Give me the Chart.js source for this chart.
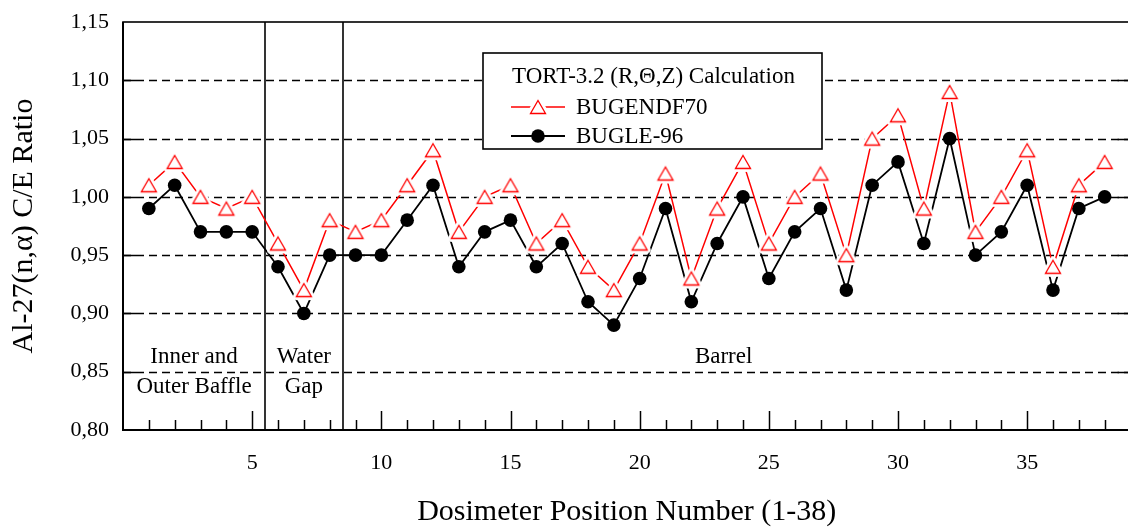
<!DOCTYPE html>
<html>
<head>
<meta charset="utf-8">
<title>Al-27(n,α) C/E Ratio</title>
<script src="https://cdn.jsdelivr.net/npm/chart.js@4.4.0/dist/chart.umd.min.js"></script>
<style>
  html, body { margin: 0; padding: 0; background: #fff; overflow: hidden; }
  #wrap { width: 1140px; height: 527px; }
</style>
</head>
<body>
<div id="wrap"><canvas id="ratio-chart" width="1140" height="527"></canvas></div>
<script>
const el = (id) => document.getElementById(id);
const SERIF = '"Liberation Serif", "Times New Roman", serif';

// dosimeter positions and C/E ratios
const positions = [1, 2, 3, 4, 5, 6, 7, 8, 9, 10, 11, 12, 13, 14, 15, 16, 17, 18, 19,
                   20, 21, 22, 23, 24, 25, 26, 27, 28, 29, 30, 31, 32, 33, 34, 35, 36, 37, 38];
const bugendf70 = [1.01, 1.03, 1.00, 0.99, 1.00, 0.96, 0.92, 0.98, 0.97, 0.98, 1.01, 1.04, 0.97,
                   1.00, 1.01, 0.96, 0.98, 0.94, 0.92, 0.96, 1.02, 0.93, 0.99, 1.03, 0.96, 1.00,
                   1.02, 0.95, 1.05, 1.07, 0.99, 1.09, 0.97, 1.00, 1.04, 0.94, 1.01, 1.03];
const bugle96  = [0.99, 1.01, 0.97, 0.97, 0.97, 0.94, 0.90, 0.95, 0.95, 0.95, 0.98, 1.01, 0.94,
                   0.97, 0.98, 0.94, 0.96, 0.91, 0.89, 0.93, 0.99, 0.91, 0.96, 1.00, 0.93, 0.97,
                   0.99, 0.92, 1.01, 1.03, 0.96, 1.05, 0.95, 0.97, 1.01, 0.92, 0.99, 1.00];
const xTickLabels = [5, 10, 15, 20, 25, 30, 35];

// region boundaries and names
const dividers = [5.5, 8.5];
const regionNames = [['Inner and', 'Outer Baffle'], ['Water', 'Gap'], ['Barrel']];
const legendTitle = 'TORT-3.2 (R,\u0398,Z) Calculation';

// hollow triangle with a white halo so the line stops short of the symbol
const makeTriangle = (color) => {
  const c = document.createElement('canvas');
  c.width = c.height = 28;
  const g = c.getContext('2d');
  const path = () => { g.beginPath(); g.moveTo(14, 7.5); g.lineTo(21.5, 20.5); g.lineTo(6.5, 20.5); g.closePath(); };
  path();
  g.lineJoin = 'round'; g.lineWidth = 7; g.strokeStyle = '#fff'; g.fillStyle = '#fff';
  g.fill(); g.stroke();
  path();
  g.lineJoin = 'miter'; g.lineWidth = 1.3; g.strokeStyle = color;
  g.fill(); g.stroke();
  return c;
};
const triangle = makeTriangle('#ff0000');

const toXY = (vals) => vals.map((v, i) => ({ x: positions[i], y: v }));

// fixed scale boxes, no extra label overhang
const fitBox = (size) => (s) => {
  if (s.isHorizontal()) s.height = size; else s.width = size;
  s.paddingTop = s.paddingBottom = s.paddingLeft = s.paddingRight = 0;
};

const decor = {
  id: 'decor',
  beforeDatasetsDraw(chart) {
    const { ctx, chartArea: a, scales: { x, y } } = chart;
    ctx.save();
    // dashed horizontal grid
    ctx.setLineDash([8, 5]);
    ctx.lineWidth = 1.3;
    ctx.strokeStyle = '#000';
    y.ticks.forEach(t => {
      if (t.value <= y.min + 1e-6 || t.value >= y.max - 1e-6) return;
      const py = Math.round(y.getPixelForValue(t.value)) + 0.5;
      ctx.beginPath(); ctx.moveTo(a.left, py); ctx.lineTo(a.right, py); ctx.stroke();
    });
    ctx.setLineDash([]);
    // region dividers
    ctx.lineWidth = 1.6;
    dividers.forEach(v => {
      const px = Math.round(x.getPixelForValue(v));
      ctx.beginPath(); ctx.moveTo(px, a.top); ctx.lineTo(px, a.bottom); ctx.stroke();
    });
    // region names
    const edges = [x.min, ...dividers, positions[positions.length - 1]];
    ctx.fillStyle = '#000';
    ctx.font = '23px ' + SERIF;
    ctx.textAlign = 'center';
    ctx.textBaseline = 'alphabetic';
    regionNames.forEach((lines, i) => {
      const cx = (x.getPixelForValue(edges[i]) + x.getPixelForValue(edges[i + 1])) / 2;
      lines.forEach((s, j) => ctx.fillText(s, cx, a.bottom - 67 + j * 30));
    });
    ctx.restore();
  },
  afterDatasetsDraw(chart) {
    const { ctx, chartArea: a, scales: { x, y } } = chart;
    ctx.save();
    ctx.strokeStyle = '#000';
    // inward ticks
    ctx.lineWidth = 1.5;
    x.ticks.forEach(t => {
      if (t.value <= x.min || t.value >= x.max) return;
      const px = Math.round(x.getPixelForValue(t.value)) + 0.5;
      const len = t.value % 5 === 0 ? 19 : 10;
      ctx.beginPath(); ctx.moveTo(px, a.bottom); ctx.lineTo(px, a.bottom - len); ctx.stroke();
    });
    y.ticks.forEach(t => {
      if (t.value <= y.min + 1e-6 || t.value >= y.max - 1e-6) return;
      const py = Math.round(y.getPixelForValue(t.value)) + 0.5;
      ctx.beginPath(); ctx.moveTo(a.left, py); ctx.lineTo(a.left + 13, py); ctx.stroke();
      ctx.beginPath(); ctx.moveTo(a.right, py); ctx.lineTo(a.right - 13, py); ctx.stroke();
    });
    // frame
    ctx.lineWidth = 1.6;
    ctx.strokeRect(a.left, a.top, a.right - a.left, a.bottom - a.top);
    ctx.lineWidth = 2;
    ctx.beginPath(); ctx.moveTo(a.left, a.top); ctx.lineTo(a.left, a.bottom); ctx.lineTo(a.right, a.bottom); ctx.stroke();
    ctx.restore();
  },
  afterDraw(chart) {
    const { ctx } = chart;
    const box = { left: 483, top: 53, right: 822, bottom: 149 };
    ctx.save();
    ctx.fillStyle = '#fff';
    ctx.fillRect(box.left, box.top, box.right - box.left, box.bottom - box.top);
    ctx.lineWidth = 1.6;
    ctx.strokeStyle = '#000';
    ctx.strokeRect(box.left, box.top, box.right - box.left, box.bottom - box.top);
    ctx.font = '23px ' + SERIF;
    ctx.fillStyle = '#000';
    ctx.textAlign = 'left';
    ctx.textBaseline = 'alphabetic';
    ctx.fillText(legendTitle, 512, 83);
    chart.data.datasets.forEach((ds, i) => {
      const ly = 107 + i * 29;
      ctx.strokeStyle = ds.borderColor;
      ctx.lineWidth = ds.borderWidth;
      ctx.beginPath(); ctx.moveTo(511, ly); ctx.lineTo(565, ly); ctx.stroke();
      if (ds.pointStyle instanceof HTMLCanvasElement) {
        ctx.drawImage(ds.pointStyle, 538 - ds.pointStyle.width / 2, ly - ds.pointStyle.height / 2);
      } else {
        ctx.fillStyle = ds.pointBackgroundColor;
        ctx.beginPath(); ctx.arc(538, ly, ds.pointRadius, 0, Math.PI * 2); ctx.fill();
      }
      ctx.fillStyle = '#000';
      ctx.fillText(ds.label, 576, ly + 7);
    });
    ctx.restore();
  }
};

new Chart(el('ratio-chart').getContext('2d'), {
  type: 'line',
  data: {
    datasets: [
      { label: 'BUGENDF70', data: toXY(bugendf70), borderColor: '#ff0000', borderWidth: 1.5,
        pointStyle: triangle, pointRadius: 8, tension: 0 },
      { label: 'BUGLE-96', data: toXY(bugle96), borderColor: '#000', borderWidth: 1.8,
        pointStyle: 'circle', pointRadius: 6.8, pointBackgroundColor: '#000', pointBorderColor: '#000',
        pointBorderWidth: 0, tension: 0 },
    ]
  },
  options: {
    responsive: false,
    animation: false,
    events: [],
    layout: { padding: { left: 0, top: 22, right: 6, bottom: 0 } },
    plugins: { legend: { display: false }, tooltip: { enabled: false } },
    scales: {
      x: {
        type: 'linear', min: 0, max: 39,
        grid: { display: false, drawTicks: false }, border: { display: false },
        afterFit: fitBox(97),
        ticks: {
          stepSize: 1, autoSkip: false, maxRotation: 0, padding: 20, color: '#000',
          font: { family: SERIF, size: 22 },
          callback: v => xTickLabels.includes(v) ? String(v) : ''
        },
        title: { display: true, text: 'Dosimeter Position Number (1-38)', color: '#000',
                 font: { family: SERIF, size: 30, lineHeight: 1 }, padding: { top: 0, bottom: 0 } }
      },
      y: {
        min: 0.80, max: 1.15,
        grid: { display: false, drawTicks: false }, border: { display: false },
        afterFit: fitBox(123),
        ticks: {
          stepSize: 0.05, padding: 14, color: '#000',
          font: { family: SERIF, size: 22 },
          callback: v => v.toFixed(2).replace('.', ',')
        },
        title: { display: true, text: 'Al-27(n,\u03b1) C/E Ratio', color: '#000',
                 font: { family: SERIF, size: 30 }, padding: { top: 6, bottom: 0 } }
      }
    }
  },
  plugins: [decor]
});
</script>
</body>
</html>
